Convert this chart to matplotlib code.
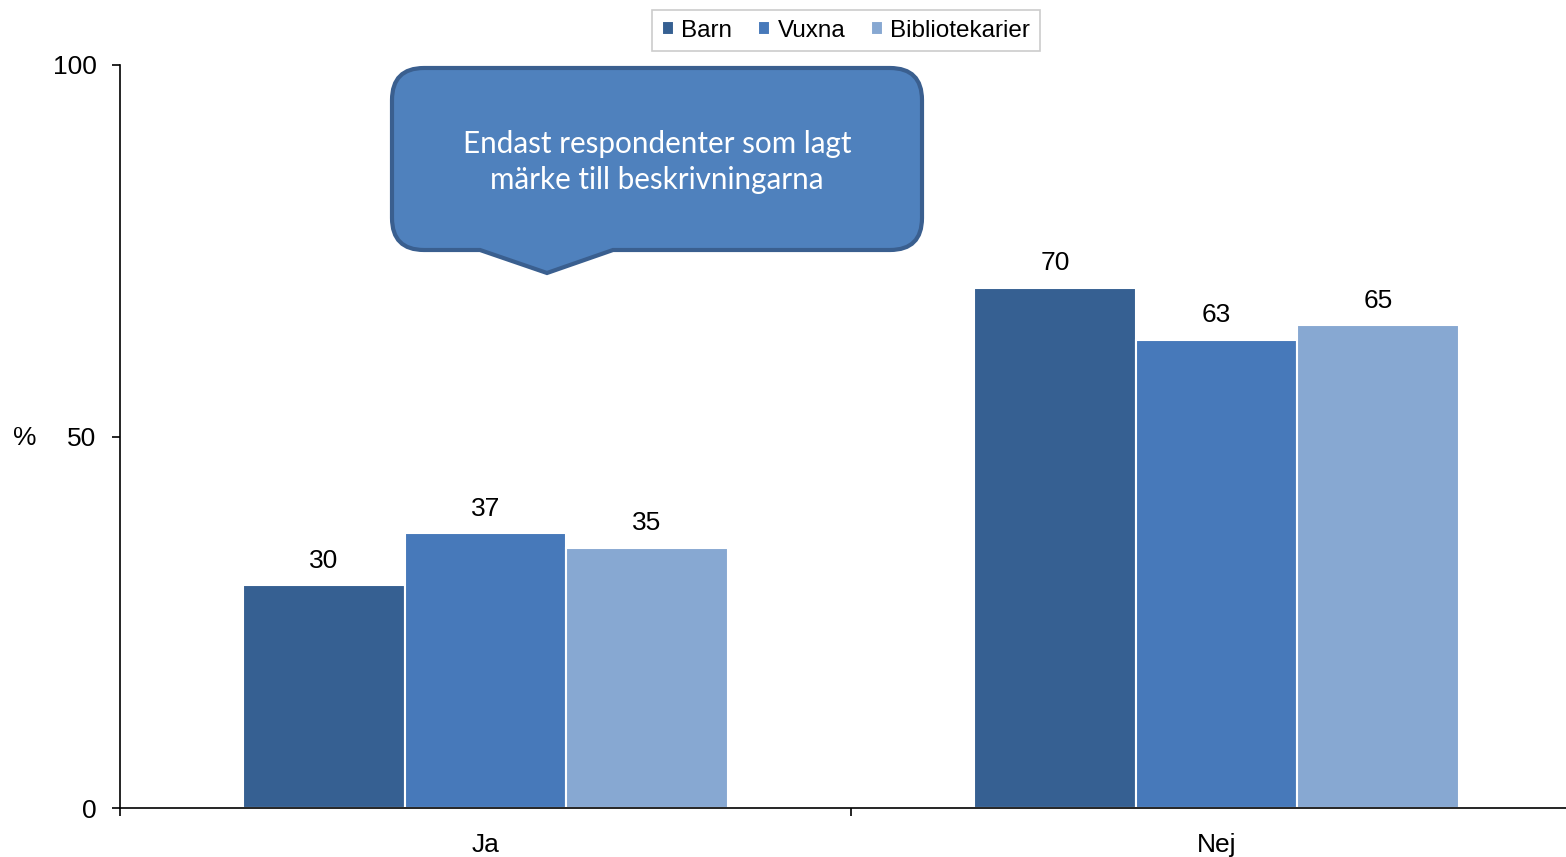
import numpy as np
import matplotlib
matplotlib.use('Agg')
import matplotlib.pyplot as plt
from matplotlib.path import Path
from matplotlib.patches import PathPatch
from matplotlib.transforms import Affine2D

# ── 数据 ──────────────────────────────────────────────────────────────────────
categories = ['Ja', 'Nej']
series     = ['Barn', 'Vuxna', 'Bibliotekarier']
barn       = [30, 70]
vuxna      = [37, 63]
bibliotek  = [35, 65]
yticks     = [0, 50, 100]
callout_lines = ['Endast respondenter som lagt', 'märke till beskrivningarna']

colors = ['#366092', '#4779BA', '#87A8D2']

plt.rcParams['font.family'] = ['Liberation Sans', 'DejaVu Sans']

W, H = 1566, 857
fig = plt.figure(figsize=(W / 100, H / 100), dpi=100, facecolor='white')
ax = fig.add_axes([120 / W, 1 - 808 / H, 1462 / W, 743 / H])

x = np.arange(len(categories))
bw = 0.221
for i, (name, vals) in enumerate(zip(series, [barn, vuxna, bibliotek])):
    pos = x + (i - 1) * bw
    bars = ax.bar(pos, vals, width=bw, color=colors[i], edgecolor='white',
                  linewidth=1.5, label=name, zorder=2)
    for b, v in zip(bars, vals):
        ax.annotate(f'{v}', (b.get_x() + b.get_width() / 2, v),
                    xytext=(0, 9), textcoords='offset points',
                    ha='center', va='bottom', fontsize=19)

ax.set_xlim(-0.5, len(categories) - 0.5)
ax.set_ylim(0, 100)
ax.set_yticks(yticks)
ax.tick_params(axis='y', direction='out', length=6, width=1.2, labelsize=19, pad=11)
ax.set_xticks(x)
ax.set_xticklabels(categories)
ax.tick_params(axis='x', which='major', length=0, labelsize=19, pad=18)
ax.set_xticks(np.arange(-0.5, len(categories)), minor=True)
ax.tick_params(axis='x', which='minor', direction='out', length=6, width=1.2)
for s in ['top', 'right']:
    ax.spines[s].set_visible(False)
for s in ['left', 'bottom']:
    ax.spines[s].set_linewidth(1.2)

fig.text(25 / W, 1 - 438 / H, '%', fontsize=19, ha='center', va='center')

leg = fig.legend(loc='upper center', bbox_to_anchor=(846 / W, 1 - 10 / H), ncol=3,
                 fontsize=17.5, frameon=True, fancybox=False, edgecolor='#BFBFBF',
                 handlelength=0.5, handleheight=0.5, handletextpad=0.3,
                 columnspacing=1.05, borderpad=0.4, borderaxespad=0)
leg.get_frame().set_linewidth(1.2)

# ── 提示框（像素坐标）────────────────────────────────────────────────────────
pix = Affine2D().scale(1 / W, -1 / H).translate(0, 1) + fig.transFigure
L, R, T, B, r = 392, 922, 68, 250, 32
verts = [(L + r, T), (R - r, T), (R, T), (R, T + r), (R, B - r), (R, B), (R - r, B),
         (613, B), (547, 273), (480, B), (L + r, B), (L, B), (L, B - r),
         (L, T + r), (L, T), (L + r, T), (L + r, T)]
codes = [Path.MOVETO, Path.LINETO, Path.CURVE3, Path.CURVE3, Path.LINETO, Path.CURVE3,
         Path.CURVE3, Path.LINETO, Path.LINETO, Path.LINETO, Path.LINETO, Path.CURVE3,
         Path.CURVE3, Path.LINETO, Path.CURVE3, Path.CURVE3, Path.CLOSEPOLY]
callout = PathPatch(Path(verts, codes), facecolor='#4F81BD', edgecolor='#3A5F8F',
                    linewidth=3, transform=pix, zorder=5)
fig.add_artist(callout)
fig.text(657 / W, 1 - 162 / H, '\n'.join(callout_lines), color='white',
         fontsize=21.3, family=['Lato', 'DejaVu Sans'], ha='center', va='center',
         linespacing=1.35, zorder=6)

fig.savefig('out.png', dpi=100, facecolor='white')
